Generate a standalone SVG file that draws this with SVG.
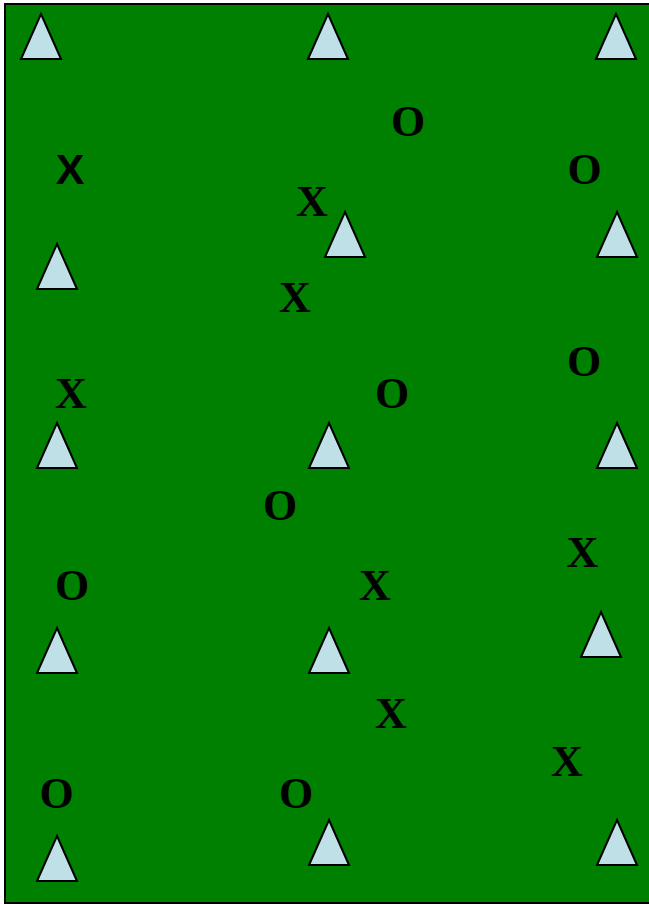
<svg xmlns="http://www.w3.org/2000/svg" width="649" height="904" viewBox="0 0 649 904">
<style>
.tri{fill:#BEE0E6;stroke:#000;stroke-width:2;stroke-linejoin:miter}
.s{font-family:"Liberation Serif","Times New Roman",serif;font-weight:bold;font-size:44px;text-anchor:middle;fill:#000}
.ss{font-family:"Liberation Sans",Arial,sans-serif;font-weight:bold;font-size:43px;text-anchor:middle;fill:#000}
</style>
<defs>
<path id="t" class="tri" d="M0,0 L20,45 L-20,45 Z"/>
</defs>
<rect x="5" y="4" width="646" height="899" fill="#008000" stroke="#000" stroke-width="2"/>
<g id="cones">
<use href="#t" x="41" y="14"/>
<use href="#t" x="328" y="14"/>
<use href="#t" x="616" y="14"/>
<use href="#t" x="345" y="212"/>
<use href="#t" x="617" y="212"/>
<use href="#t" x="57" y="244"/>
<use href="#t" x="57" y="423"/>
<use href="#t" x="329" y="423"/>
<use href="#t" x="617" y="423"/>
<use href="#t" x="601" y="612"/>
<use href="#t" x="57" y="628"/>
<use href="#t" x="329" y="628"/>
<use href="#t" x="329" y="820"/>
<use href="#t" x="617" y="820"/>
<use href="#t" x="57" y="836"/>
</g>
<g id="players">
<text class="s" x="408" y="136">O</text>
<text class="ss" x="70" y="184">X</text>
<text class="s" x="584.5" y="184">O</text>
<text class="s" x="312" y="216">X</text>
<text class="s" x="295" y="311.5">X</text>
<text class="s" x="584" y="375.5">O</text>
<text class="s" x="71" y="407.5">X</text>
<text class="s" x="392" y="407.5">O</text>
<text class="s" x="280" y="519.5">O</text>
<text class="s" x="582.5" y="567">X</text>
<text class="s" x="72" y="599.5">O</text>
<text class="s" x="375" y="599.5">X</text>
<text class="s" x="391" y="727.5">X</text>
<text class="s" x="567" y="775.5">X</text>
<text class="s" x="56.5" y="807.5">O</text>
<text class="s" x="296" y="807.5">O</text>
</g>
</svg>
